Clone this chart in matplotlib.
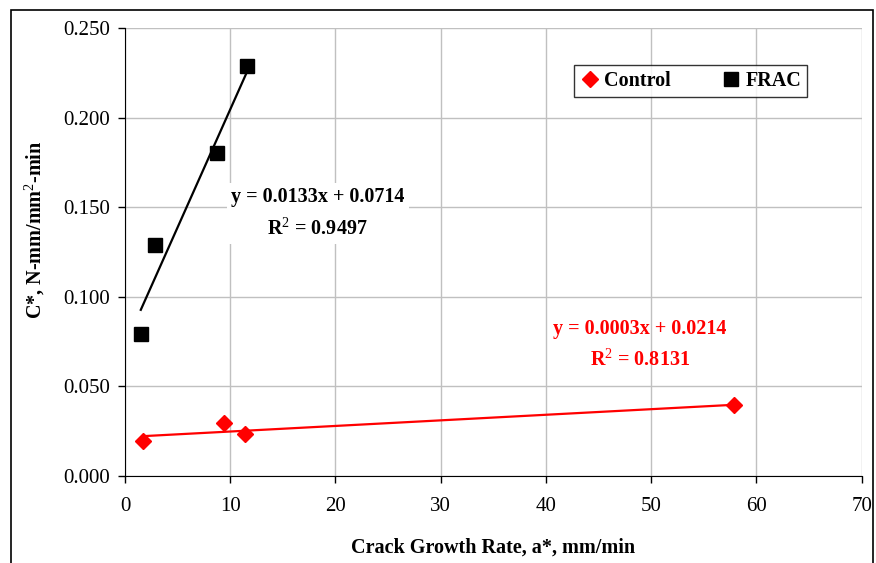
import matplotlib.pyplot as plt
import numpy as np
from matplotlib.patches import Rectangle

# datos
frac_x = [1.5, 2.85, 8.75, 11.6]
frac_y = [0.079, 0.129, 0.180, 0.229]
control_x = [1.7, 9.4, 11.4, 57.9]
control_y = [0.0195, 0.0296, 0.0234, 0.0394]

frac_eq = "y = 0.0133x + 0.0714\nR$^2$ = 0.9497"
control_eq = "y = 0.0003x + 0.0214\nR$^2$ = 0.8131"

xticks = [0, 10, 20, 30, 40, 50, 60, 70]
yticks = [0.0, 0.05, 0.10, 0.15, 0.20, 0.25]

plt.rcParams['font.family'] = ['Liberation Serif', 'DejaVu Serif']
plt.rcParams['mathtext.fontset'] = 'custom'
plt.rcParams['mathtext.rm'] = 'Liberation Serif'
plt.rcParams['mathtext.bf'] = 'Liberation Serif:bold'

fig = plt.figure(figsize=(8.76, 5.63), dpi=100)
ax = fig.add_axes([0.1427, 0.1545, 0.841, 0.7958])

# marco exterior
fig.patches.append(Rectangle((0.012, -0.01), 0.985, 0.993, transform=fig.transFigure,
                             fill=False, edgecolor='black', linewidth=1.2))

# lineas de tendencia
p_frac = np.polyfit(frac_x, frac_y, 1)
p_ctrl = np.polyfit(control_x, control_y, 1)
xf = np.array([min(frac_x), max(frac_x)])
xc = np.array([min(control_x), max(control_x)])
ax.plot(xf, np.polyval(p_frac, xf), color='black', linewidth=1.6, zorder=3)
ax.plot(xc, np.polyval(p_ctrl, xc), color='#ff0000', linewidth=1.6, zorder=3)

ax.plot(control_x, control_y, linestyle='none', marker='D', markersize=8,
        color='#ff0000', label='Control', zorder=4)
ax.plot(frac_x, frac_y, linestyle='none', marker='s', markersize=9.5,
        color='black', label='FRAC', zorder=4)

ax.text(18.3, 0.1465, frac_eq, ha='center', va='center', fontsize=14.5,
        fontweight='bold', linespacing=1.6,
        bbox=dict(facecolor='white', edgecolor='none', pad=3), zorder=5)
ax.text(48.9, 0.0733, control_eq, ha='center', va='center', fontsize=14.5,
        fontweight='bold', color='#ff0000', linespacing=1.6, zorder=5)

ax.set_xlim(0, 70)
ax.set_ylim(0, 0.25)
ax.set_xticks(xticks)
ax.set_yticks(yticks)
ax.set_yticklabels([f"{v:.3f}" for v in yticks])
ax.tick_params(labelsize=15, direction='out', length=5, width=1)
ax.tick_params(axis='x', pad=10)
ax.tick_params(axis='y', pad=6)
ax.grid(True, color='#c0c0c0', linewidth=1)
ax.set_axisbelow(True)
for s in ['top', 'right']:
    ax.spines[s].set_visible(False)

ax.set_xlabel('Crack Growth Rate, a*, mm/min', fontsize=14.5, fontweight='bold', labelpad=16)
ax.set_ylabel('C*, N-mm/mm$^2$-min', fontsize=14.5, fontweight='bold')
ax.yaxis.set_label_coords(-0.106, 0.55)

leg = ax.legend(loc='upper right', bbox_to_anchor=(0.94, 0.94), ncol=2,
                prop={'weight': 'bold', 'size': 14.5}, frameon=True, fancybox=False,
                edgecolor='black', handletextpad=0.2, columnspacing=2.5,
                borderpad=0.3, handlelength=1.0)
leg.get_frame().set_linewidth(1)

fig.savefig('out.png', dpi=100)
